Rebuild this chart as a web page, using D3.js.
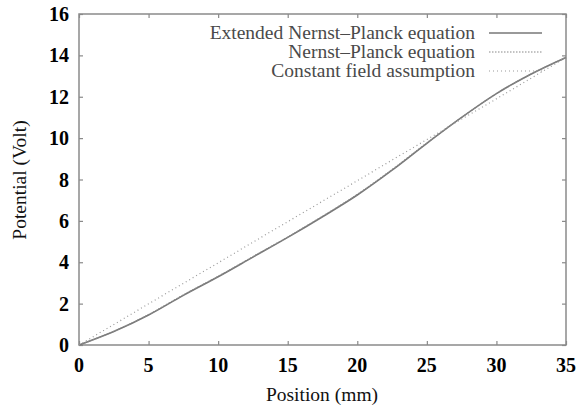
<!DOCTYPE html>
<html>
<head>
<meta charset="utf-8">
<script src="https://cdn.jsdelivr.net/npm/d3@7"></script>
<style>
  body { margin: 0; background: #fff; }
</style>
</head>
<body>
<div id="chart"></div>
<script>
// positions in mm
var positions = [0, 2.5, 5, 7.5, 10, 12.5, 15, 17.5, 20, 22.5, 25, 27.5, 30, 32.5, 35];
// potential (Volt) per model
var extendedNP = [0, 0.65, 1.45, 2.4, 3.3, 4.25, 5.2, 6.2, 7.25, 8.45, 9.75, 11.0, 12.15, 13.1, 13.9];
var nernstPlanck = [0, 0.66, 1.47, 2.42, 3.32, 4.27, 5.22, 6.22, 7.28, 8.48, 9.77, 11.0, 12.15, 13.1, 13.9];
var constantField = [0, 0.99, 1.99, 2.98, 3.97, 4.97, 5.96, 6.95, 7.94, 8.94, 9.93, 10.92, 11.9, 12.9, 13.9];
var xTicks = [0, 5, 10, 15, 20, 25, 30, 35];
var yTicks = [0, 2, 4, 6, 8, 10, 12, 14, 16];
var legendLabels = ["Extended Nernst\u2013Planck equation", "Nernst\u2013Planck equation", "Constant field assumption"];

(function() {
    var width = 587, height = 409;
    var pLeft = 79, pRight = 566, pTop = 14, pBottom = 345;
    var serif = "'Liberation Serif', 'Times New Roman', 'DejaVu Serif', serif";

    var svg = d3.select("#chart").append("svg")
        .attr("width", width)
        .attr("height", height)
        .style("font-family", serif);

    var x = d3.scaleLinear().domain([0, 35]).range([pLeft, pRight]);
    var y = d3.scaleLinear().domain([0, 16]).range([pBottom, pTop]);

    var axisColor = "#8a8a8a";

    // frame
    svg.append("rect")
        .attr("x", pLeft).attr("y", pTop)
        .attr("width", pRight - pLeft).attr("height", pBottom - pTop)
        .attr("fill", "none")
        .attr("stroke", axisColor)
        .attr("stroke-width", 1.5);

    // inward ticks on four sides
    var xb = svg.append("g").attr("transform", "translate(0," + pBottom + ")")
        .call(d3.axisTop(x).tickValues(xTicks).tickSize(4).tickFormat(""));
    var xt = svg.append("g").attr("transform", "translate(0," + pTop + ")")
        .call(d3.axisBottom(x).tickValues(xTicks).tickSize(4).tickFormat(""));
    var yl = svg.append("g").attr("transform", "translate(" + pLeft + ",0)")
        .call(d3.axisRight(y).tickValues(yTicks).tickSize(4).tickFormat(""));
    var yr = svg.append("g").attr("transform", "translate(" + pRight + ",0)")
        .call(d3.axisLeft(y).tickValues(yTicks).tickSize(4).tickFormat(""));
    [xb, xt, yl, yr].forEach(function(g) {
        g.select(".domain").remove();
        g.selectAll("line").attr("stroke", axisColor).attr("stroke-width", 1.2);
    });

    // tick labels
    svg.selectAll(".xlab")
        .data(xTicks)
        .enter().append("text")
        .attr("class", "xlab")
        .attr("x", function(d) { return x(d) })
        .attr("y", 372)
        .attr("text-anchor", "middle")
        .attr("font-family", serif)
        .attr("font-size", 20)
        .attr("font-weight", "bold")
        .text(function(d) { return d });

    svg.selectAll(".ylab")
        .data(yTicks)
        .enter().append("text")
        .attr("class", "ylab")
        .attr("x", 69)
        .attr("y", function(d) { return y(d) + 7 })
        .attr("text-anchor", "end")
        .attr("font-family", serif)
        .attr("font-size", 20)
        .attr("font-weight", "bold")
        .text(function(d) { return d });

    // axis titles
    svg.append("text")
        .attr("x", 322).attr("y", 401)
        .attr("text-anchor", "middle")
        .attr("font-family", serif)
        .attr("font-size", 19.5)
        .attr("fill", "#111")
        .text("Position (mm)");

    svg.append("text")
        .attr("transform", "translate(26,180) rotate(-90)")
        .attr("text-anchor", "middle")
        .attr("font-family", serif)
        .attr("font-size", 19.5)
        .attr("fill", "#111")
        .text("Potential (Volt)");

    // curves
    var line = d3.line()
        .x(function(d) { return x(d[0]) })
        .y(function(d) { return y(d[1]) })
        .curve(d3.curveMonotoneX);

    var series = [
        { values: extendedNP, dash: null, color: "#777", w: 1.6 },
        { values: nernstPlanck, dash: "1.5,1.5", color: "#888", w: 1.2 },
        { values: constantField, dash: "1,3", color: "#999", w: 1.2 }
    ];

    series.forEach(function(s, i) {
        var pts = positions.map(function(p, j) { return [p, s.values[j]] });
        svg.append("path")
            .datum(pts)
            .attr("d", line)
            .attr("fill", "none")
            .attr("stroke", s.color)
            .attr("stroke-width", s.w)
            .attr("stroke-dasharray", s.dash);

        svg.append("text")
            .attr("x", 475)
            .attr("y", 39 + i * 19)
            .attr("text-anchor", "end")
            .attr("font-family", serif)
            .attr("font-size", 19.5)
            .attr("fill", "#4a4a4a")
            .text(legendLabels[i]);

        svg.append("line")
            .attr("x1", 489).attr("x2", 542)
            .attr("y1", 33 + i * 19).attr("y2", 33 + i * 19)
            .attr("stroke", s.color)
            .attr("stroke-width", s.w)
            .attr("stroke-dasharray", s.dash);
    });
})();
</script>
</body>
</html>
